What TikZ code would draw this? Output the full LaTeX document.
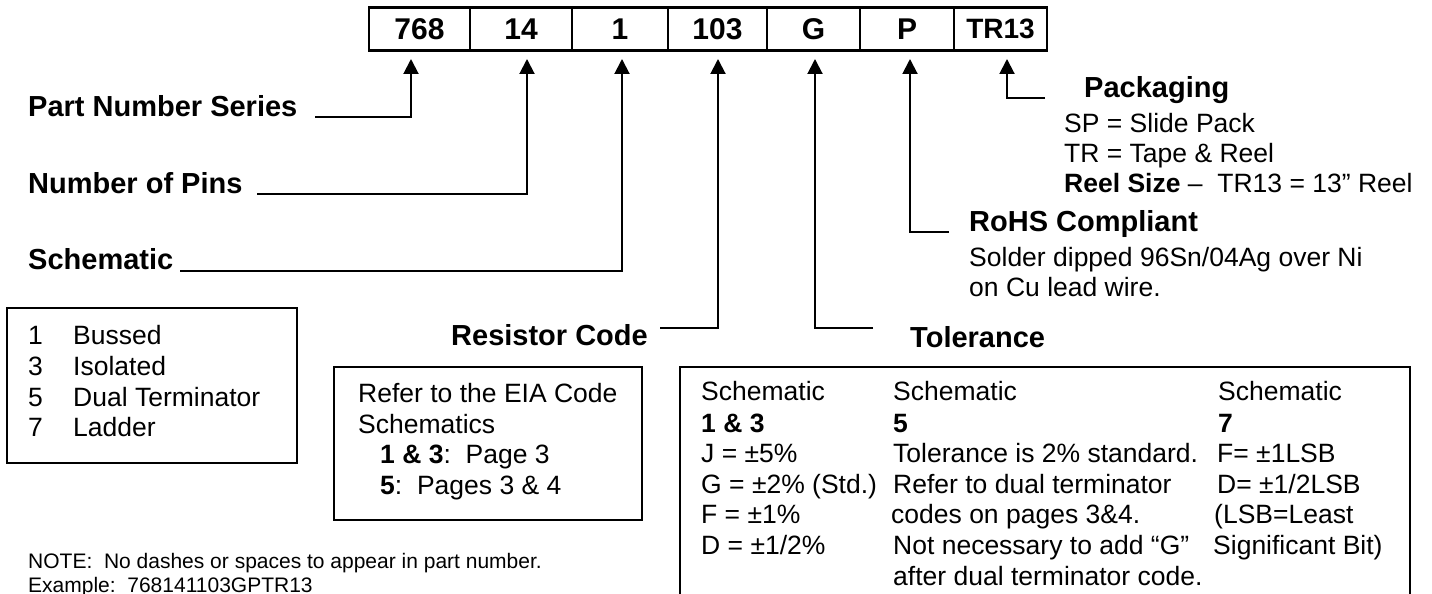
\documentclass[tikz,border=0pt]{standalone}
\usepackage{fontspec}
\setmainfont{Liberation Sans}
\usetikzlibrary{arrows.meta}
\begin{document}
\begin{tikzpicture}[x=1pt,y=-1pt,
  reg/.style={font=\fontsize{26.5}{30.7}\selectfont, inner sep=0pt, anchor=base west},
  lbl/.style={font=\fontsize{29}{33}\selectfont\bfseries, inner sep=0pt},
  notetext/.style={font=\fontsize{21}{24}\selectfont, inner sep=0pt, anchor=base west},
  pbox/.style={draw, line width=2.5pt, minimum height=43pt, inner sep=0pt, font=\fontsize{30}{32}\selectfont\bfseries},
  frame/.style={draw, line width=2pt, inner sep=0pt},
  conn/.style={line width=2pt, -{Triangle[width=15pt,length=15pt]}},
]
\clip (0,0) rectangle (1432,594);
\fill[white] (0,0) rectangle (1432,594);

% part number boxes
\node[pbox, minimum width=101pt] (b768) at (419.5,29) {768};
\node[pbox, minimum width=102pt] (b14) at (521,29) {14};
\node[pbox, minimum width=96pt] (b1) at (620,29) {1};
\node[pbox, minimum width=99pt] (b103) at (717.5,29) {103};
\node[pbox, minimum width=93pt] (bG) at (813.5,29) {G};
\node[pbox, minimum width=94pt] (bP) at (907,29) {P};
\node[pbox, minimum width=93pt, font=\fontsize{28}{30}\selectfont\bfseries] (bTR) at (1000.5,29) {TR13};

% arrow tips and line starts
\coordinate (t768) at (411,59);  \coordinate (s768) at (315,117);
\coordinate (t14) at (527,59);   \coordinate (s14) at (257,194);
\coordinate (t1) at (622,59);    \coordinate (s1) at (180,271);
\coordinate (t103) at (718,59);  \coordinate (s103) at (660,328);
\coordinate (tG) at (815,59);    \coordinate (sG) at (873,328);
\coordinate (tP) at (910,59);    \coordinate (sP) at (949,232);
\coordinate (tTR) at (1007,59);  \coordinate (sTR) at (1045,98);

\draw[conn] (s768) -| (t768);
\draw[conn] (s14) -| (t14);
\draw[conn] (s1) -| (t1);
\draw[conn] (s103) -| (t103);
\draw[conn] (sG) -| (tG);
\draw[conn] (sP) -| (tP);
\draw[conn] (sTR) -| (tTR);

% labels
\node[lbl, anchor=base west] (lPNS) at (28,116) {Part Number Series};
\node[lbl, anchor=base west] (lNP) at (28,193) {Number of Pins};
\node[lbl, anchor=base west] (lSch) at (28,269) {Schematic};
\node[lbl, anchor=base east] (lRC) at (648,345) {Resistor Code};
\node[lbl, anchor=base west] (lTol) at (910,347) {Tolerance};
\node[lbl, anchor=base west] (lPkg) at (1084,97) {Packaging};
\node[lbl, anchor=base west] (lRoHS) at (969,231) {RoHS Compliant};

% packaging text
\node[reg] (pk1) at (1064,132) {SP = Slide Pack};
\node[reg] (pk2) at (1064,162) {TR = Tape \& Reel};
\node[reg] (pk3) at (1064,192) {\textbf{Reel Size} --\ \ TR13 = 13” Reel};

% RoHS text
\node[reg] (ro1) at (969,266) {Solder dipped 96Sn/04Ag over Ni};
\node[reg] (ro2) at (969,296) {on Cu lead wire.};

% schematic box
\node[frame, minimum width=290pt, minimum height=155pt] (schbox) at (152,385.5) {};
\node[reg] (n1) at (28,344) {1};  \node[reg] (s1t) at (73,344) {Bussed};
\node[reg] (n3) at (28,375) {3};  \node[reg] (s3t) at (73,375) {Isolated};
\node[reg] (n5) at (28,406) {5};  \node[reg] (s5t) at (73,406) {Dual Terminator};
\node[reg] (n7) at (28,436) {7};  \node[reg] (s7t) at (73,436) {Ladder};

% EIA box
\node[frame, minimum width=308pt, minimum height=153pt] (eiabox) at (488,443.5) {};
\node[reg] (e1) at (358,402) {Refer to the EIA Code};
\node[reg] (e2) at (358,433) {Schematics};
\node[reg] (e3) at (380,463) {\textbf{1 \& 3}:\ \ Page 3};
\node[reg] (e4) at (380,494) {\textbf{5}:\ \ Pages 3 \& 4};

% tolerance box
\node[frame, minimum width=730pt, minimum height=260pt] (tolbox) at (1045,497) {};
\node[reg] (c1a) at (701,400) {Schematic};
\node[reg] (c1b) at (701,432) {\textbf{1 \& 3}};
\node[reg] (c1c) at (701,462) {J = ±5\%};
\node[reg] (c1d) at (701,493) {G = ±2\% (Std.)};
\node[reg] (c1e) at (701,523) {F = ±1\%};
\node[reg] (c1f) at (701,554) {D = ±1/2\%};

\node[reg] (c2a) at (893,400) {Schematic};
\node[reg] (c2b) at (893,432) {\textbf{5}};
\node[reg] (c2c) at (893,462) {Tolerance is 2\% standard.};
\node[reg] (c2d) at (893,493) {Refer to dual terminator};
\node[reg] (c2e) at (891,523) {codes on pages 3\&4.};
\node[reg] (c2f) at (893,554) {Not necessary to add “G”};
\node[reg] (c2g) at (893,585) {after dual terminator code.};

\node[reg] (c3a) at (1218,400) {Schematic};
\node[reg] (c3b) at (1218,432) {\textbf{7}};
\node[reg] (c3c) at (1217,462) {F= ±1LSB};
\node[reg] (c3d) at (1217,493) {D= ±1/2LSB};
\node[reg] (c3e) at (1214,523) {(LSB=Least};
\node[reg] (c3f) at (1213,554) {Significant Bit)};

% note
\node[notetext] (note1) at (28,568) {NOTE:\ \ No dashes or spaces to appear in part number.};
\node[notetext] (note2) at (28,592) {Example:\ \ 768141103GPTR13};
\end{tikzpicture}
\end{document}
